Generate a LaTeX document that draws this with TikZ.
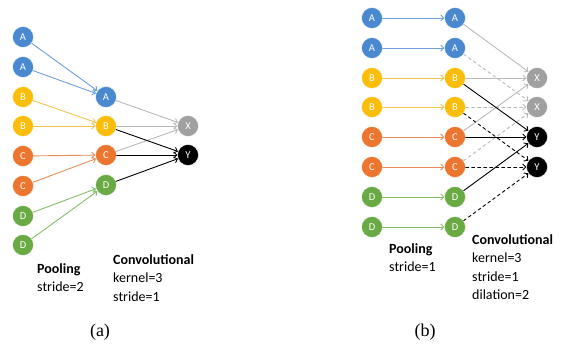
\documentclass[tikz,border=0pt]{standalone}
\usepackage{fontspec}
\setmainfont{Liberation Serif}
\newfontfamily\labfont{Carlito}
\usetikzlibrary{arrows.meta}
\definecolor{nblue}{RGB}{74,137,208}
\definecolor{nyellow}{RGB}{250,190,10}
\definecolor{norange}{RGB}{236,118,48}
\definecolor{ngreen}{RGB}{106,170,68}
\definecolor{ngray}{RGB}{160,160,160}
\definecolor{lblue}{RGB}{110,160,215}
\definecolor{lyellow}{RGB}{240,195,80}
\definecolor{lorange}{RGB}{232,140,90}
\definecolor{lgreen}{RGB}{135,188,105}
\definecolor{lgray}{RGB}{185,185,185}

\begin{document}
\begin{tikzpicture}[x=1pt, y=-1pt, line cap=round, line join=round,
  unit/.style={circle, draw=white, line width=0.4pt, fill=#1, minimum size=21pt,
    inner sep=0pt, text=white, font=\labfont\fontsize{10.5}{10.5}\selectfont},
  link/.style={draw=#1, line width=0.9pt, -{Straight Barb[length=3pt,width=6pt]}},
  txt/.style={font=\labfont\fontsize{14}{18.5}\selectfont, align=left,
    anchor=north west, inner sep=0pt},
  subcap/.style={font=\fontsize{18}{18}\selectfont, inner sep=0pt}]

  \useasboundingbox (0,0) rectangle (562,345);

  %========= (a) pooling stride 2 =========
  \foreach \i/\t/\c/\y in {1/A/nblue/37, 2/A/nblue/67, 3/B/nyellow/97, 4/B/nyellow/126,
                           5/C/norange/156, 6/C/norange/186, 7/D/ngreen/216, 8/D/ngreen/245}
    \node[unit=\c] (a\i) at (23,\y) {\t};
  \foreach \i/\t/\c/\y in {1/A/nblue/97, 2/B/nyellow/126, 3/C/norange/155, 4/D/ngreen/185}
    \node[unit=\c] (p\i) at (106,\y) {\t};
  \node[unit=ngray] (ax) at (188,126) {X};
  \node[unit=black] (ay) at (188,155) {Y};

  \draw[link=lblue] (a1) -- (p1);
  \draw[link=lblue] (a2) -- (p1);
  \draw[link=lyellow] (a3) -- (p2);
  \draw[link=lyellow] (a4) -- (p2);
  \draw[link=lorange] (a5) -- (p3);
  \draw[link=lorange] (a6) -- (p3);
  \draw[link=lgreen] (a7) -- (p4);
  \draw[link=lgreen] (a8) -- (p4);

  \foreach \j in {1,2,3}
    \draw[link=lgray] (p\j) -- (ax);
  \foreach \j in {2,3,4}
    \draw[link=black] (p\j) -- (ay);

  \node[txt] (apool) at (37,263) {\textbf{Pooling}\\stride=2};
  \node[txt] (aconv) at (113,254) {\textbf{Convolutional}\\kernel=3\\stride=1};
  \node[subcap] (capa) at (100,332) {(a)};

  %========= (b) pooling stride 1, dilated conv =========
  \foreach \i/\t/\c/\y in {1/A/nblue/18, 2/A/nblue/48, 3/B/nyellow/78, 4/B/nyellow/107,
                           5/C/norange/137, 6/C/norange/167, 7/D/ngreen/197, 8/D/ngreen/227}
  {
    \node[unit=\c] (b\i) at (372,\y) {\t};
    \node[unit=\c] (m\i) at (455,\y) {\t};
  }
  \node[unit=ngray] (bx1) at (537,78) {X};
  \node[unit=ngray] (bx2) at (537,107) {X};
  \node[unit=black] (by1) at (537,137) {Y};
  \node[unit=black] (by2) at (537,167) {Y};

  \draw[link=lblue] (b1) -- (m1);
  \draw[link=lblue] (b2) -- (m2);
  \draw[link=lyellow] (b3) -- (m3);
  \draw[link=lyellow] (b4) -- (m4);
  \draw[link=lorange] (b5) -- (m5);
  \draw[link=lorange] (b6) -- (m6);
  \draw[link=lgreen] (b7) -- (m7);
  \draw[link=lgreen] (b8) -- (m8);

  \foreach \j in {1,3,5}
    \draw[link=lgray] (m\j) -- (bx1);
  \foreach \j in {2,4,6}
    \draw[link=lgray, dashed] (m\j) -- (bx2);
  \foreach \j in {3,5,7}
    \draw[link=black] (m\j) -- (by1);
  \foreach \j in {4,6,8}
    \draw[link=black, dashed] (m\j) -- (by2);

  \node[txt] (bpool) at (389,243) {\textbf{Pooling}\\stride=1};
  \node[txt] (bconv) at (472,234) {\textbf{Convolutional}\\kernel=3\\stride=1\\dilation=2};
  \node[subcap] (capb) at (425,332) {(b)};
\end{tikzpicture}
\end{document}
